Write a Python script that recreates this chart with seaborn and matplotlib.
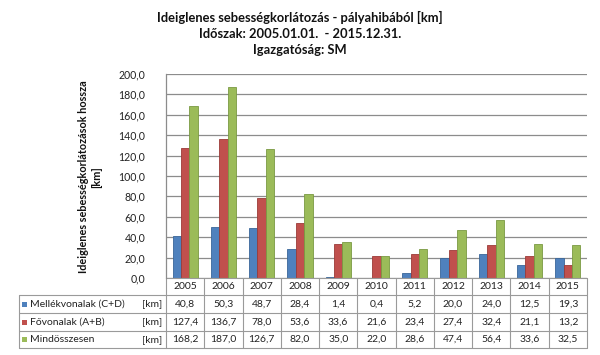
import matplotlib
matplotlib.use("Agg")
import matplotlib.pyplot as plt
import matplotlib.transforms as mtransforms
from matplotlib.ticker import FuncFormatter, MultipleLocator
import seaborn as sns
import pandas as pd

years = ["2005", "2006", "2007", "2008", "2009", "2010", "2011", "2012", "2013", "2014", "2015"]
series_names = ["Mellékvonalak (C+D)", "Fővonalak (A+B)", "Mindösszesen"]
mellek = [40.8, 50.3, 48.7, 28.4, 1.4, 0.4, 5.2, 20.0, 24.0, 12.5, 19.3]
fovonal = [127.4, 136.7, 78.0, 53.6, 33.6, 21.6, 23.4, 27.4, 32.4, 21.1, 13.2]
osszes = [168.2, 187.0, 126.7, 82.0, 35.0, 22.0, 28.6, 47.4, 56.4, 33.6, 32.5]
unit = "[km]"
title_lines = ["Ideiglenes sebességkorlátozás - pályahibából [km]",
               "Időszak: 2005.01.01.  - 2015.12.31.",
               "Igazgatóság: SM"]
ylabel = "Ideiglenes sebességkorlátozások hossza\n[km]"

colors = ["#4F81BD", "#C0504D", "#9BBB59"]
edge_colors = ["#3A6699", "#9B3B38", "#7A9A42"]

sns.set_theme(style="white")
plt.rcParams["font.family"] = ["Lato", "DejaVu Sans"]

values = [mellek, fovonal, osszes]
rows = []
for name, vals in zip(series_names, values):
    for y, v in zip(years, vals):
        rows.append({"year": y, "series": name, "value": v})
df = pd.DataFrame(rows)

W, H = 600, 355
fig = plt.figure(figsize=(6.0, 3.55), dpi=100)
fig.patch.set_facecolor("white")

def fx(px):
    return px / W

def fy(py):
    return 1 - py / H

ax = fig.add_axes([fx(166), fy(278), fx(587) - fx(166), fy(74) - fy(278)])
sns.barplot(data=df, x="year", y="value", hue="series", hue_order=series_names,
            order=years, palette=colors, width=0.66, gap=0, legend=False,
            saturation=1, ax=ax, errorbar=None)
for i, cont in enumerate(ax.containers):
    for p in cont:
        p.set_edgecolor(edge_colors[i])
        p.set_linewidth(0.6)

ax.set_ylim(0, 200)
ax.set_xlim(-0.5, len(years) - 0.5)
ax.yaxis.set_major_locator(MultipleLocator(20))
ax.yaxis.set_major_formatter(FuncFormatter(lambda v, p: f"{v:.1f}".replace(".", ",")))
ax.grid(axis="y", color="#8C8C8C", linewidth=0.9)
ax.set_axisbelow(True)
for s in ["top", "right", "bottom"]:
    ax.spines[s].set_visible(False)
ax.spines["left"].set_color("#8C8C8C")
ax.spines["left"].set_linewidth(0.9)
ax.set_xticks([])
ax.set_xlabel("")
ax.set_ylabel("")
ax.tick_params(axis="y", labelsize=7.6, length=3, color="#8C8C8C", pad=12, labelcolor="#222222")

# Title
for i, t in enumerate(title_lines):
    fig.text(fx(300), fy(17 + i * 16.5), t, ha="center", va="center",
             fontsize=9.3, fontweight="bold", color="#111111")

# Y label
fig.text(fx(90), fy(177), ylabel, rotation=90, ha="center", va="center",
         fontsize=7.8, fontweight="bold", color="#111111", linespacing=1.25)

# Data table below the plot
trans = mtransforms.blended_transform_factory(ax.transData, fig.transFigure)
grid_c = "#9A9A9A"
row_edges = [278, 295, 313, 331, 348]
x_left_data = -0.5
x_right_data = len(years) - 0.5
for k, yy in enumerate(row_edges):
    ax.plot([x_left_data, x_right_data], [fy(yy), fy(yy)], transform=trans,
            color=grid_c, lw=0.8, clip_on=False)
for i in range(len(years) + 1):
    ax.plot([i - 0.5, i - 0.5], [fy(row_edges[0]), fy(row_edges[-1])], transform=trans,
            color=grid_c, lw=0.8, clip_on=False)
for yy in row_edges[1:]:
    fig.add_artist(plt.Line2D([fx(19), fx(166)], [fy(yy), fy(yy)], color=grid_c, lw=0.8))
fig.add_artist(plt.Line2D([fx(19), fx(19)], [fy(row_edges[1]), fy(row_edges[-1])], color=grid_c, lw=0.8))

for i, y in enumerate(years):
    ax.text(i, fy((row_edges[0] + row_edges[1]) / 2), y, transform=trans, ha="center",
            va="center", fontsize=7.5, color="#222222")

for r, (name, vals) in enumerate(zip(series_names, values)):
    yc = fy((row_edges[r + 1] + row_edges[r + 2]) / 2)
    fig.add_artist(plt.Rectangle((fx(22), yc - 2.5 / H), 5 / W, 5 / H,
                                 facecolor=colors[r], edgecolor="none"))
    fig.text(fx(30), yc, name, ha="left", va="center", fontsize=7.5, color="#222222")
    fig.text(fx(162), yc, unit, ha="right", va="center", fontsize=7.5, color="#222222")
    for i, v in enumerate(vals):
        ax.text(i, yc, f"{v:.1f}".replace(".", ","), transform=trans, ha="center",
                va="center", fontsize=7.5, color="#222222")

fig.savefig("out.png", dpi=100, facecolor="white")
